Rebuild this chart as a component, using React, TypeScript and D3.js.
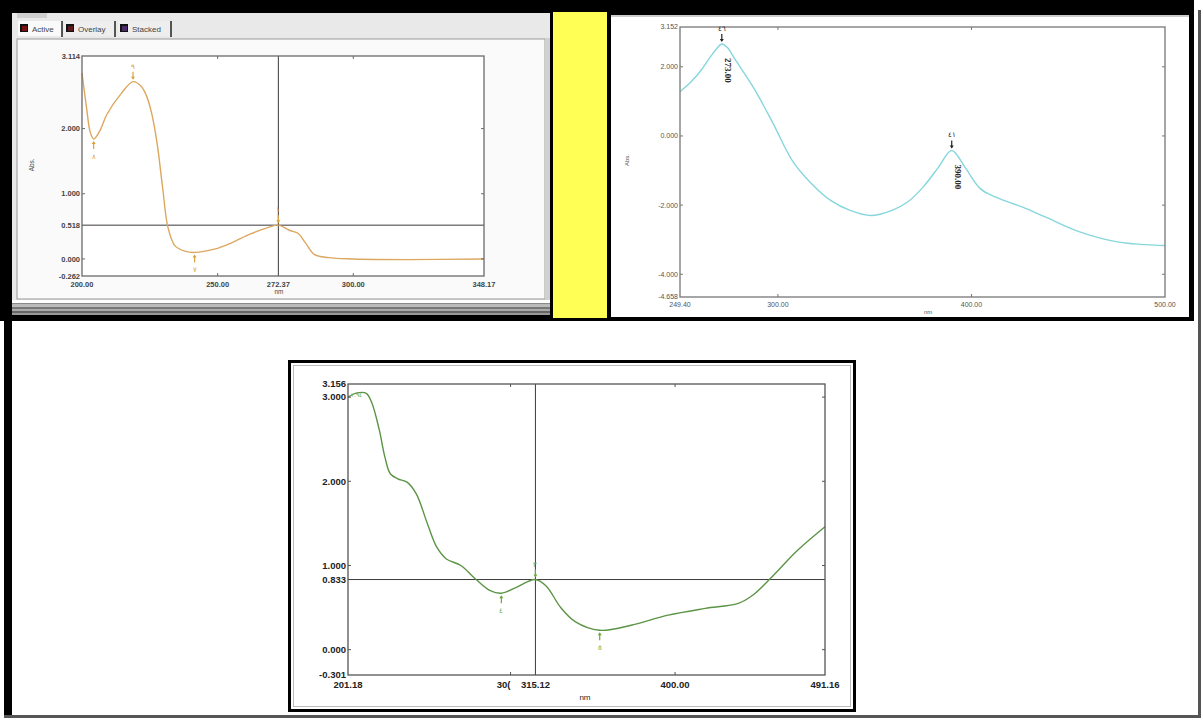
import React from "react";
import * as d3 from "d3";

// ---------- DATA ----------
// Panel 1 (orange spectrum, "Active" window)
const P1_NM = [200, 201.8, 203, 204.3, 206.5, 209.2, 214.5, 218.8, 221.8, 223.7, 225.7, 227.7, 229.7, 231.7, 234.3, 238.2, 241.5, 248.8, 255.3, 261.9, 268.5, 272.37, 276.4, 279.7, 282.3, 285.6, 290.9, 300, 320, 348.17];
const P1_ABS = [2.85, 2.28, 1.95, 1.84, 1.96, 2.22, 2.54, 2.72, 2.65, 2.51, 2.23, 1.77, 1.1, 0.48, 0.2, 0.115, 0.1, 0.15, 0.25, 0.38, 0.48, 0.518, 0.44, 0.39, 0.25, 0.07, 0.02, 0.0, -0.01, 0.0];
const P1_X_TICKS = [200, 250, 272.37, 300, 348.17];
const P1_X_LABELS = ["200.00", "250.00", "272.37", "300.00", "348.17"];
const P1_Y_TICKS = [3.114, 2.0, 1.0, 0.518, 0.0, -0.262];
const P1_Y_LABELS = ["3.114", "2.000", "1.000", "0.518", "0.000", "-0.262"];
const P1_PEAKS = [
  { nm: 204.3, v: 1.84, dir: "below", label: "\u0668" },
  { nm: 218.8, v: 2.72, dir: "above", label: "\u0669" },
  { nm: 241.5, v: 0.1, dir: "below", label: "\u0667" },
  { nm: 272.37, v: 0.518, dir: "above", label: "\u0661" },
];

// Panel 2 (cyan spectrum)
const P2_NM = [249.4, 255, 260, 265, 268, 271, 274, 277.8, 287.7, 297.6, 307.4, 317.4, 327.4, 337.3, 348.1, 359, 367, 375, 383, 389.8, 396.6, 404.7, 412.6, 426.5, 438.4, 456.3, 476.2, 500];
const P2_ABS = [1.28, 1.56, 1.88, 2.28, 2.5, 2.66, 2.55, 2.22, 1.37, 0.35, -0.71, -1.38, -1.87, -2.15, -2.3, -2.15, -1.91, -1.48, -0.9, -0.42, -0.9, -1.53, -1.77, -2.06, -2.35, -2.78, -3.07, -3.17];
const P2_X_TICKS = [249.4, 300, 400, 500];
const P2_X_LABELS = ["249.40", "300.00", "400.00", "500.00"];
const P2_Y_TICKS = [3.152, 2.0, 0.0, -2.0, -4.0, -4.658];
const P2_Y_LABELS = ["3.152", "2.000", "0.000", "-2.000", "-4.000", "-4.658"];
const P2_PEAKS = [
  { nm: 271, v: 2.66, dir: "above", label: "\u0664\u0666", value: "273.00" },
  { nm: 389.8, v: -0.42, dir: "above", label: "\u0664\u0661", value: "390.00" },
];

// Panel 3 (green spectrum)
const P3_NM = [201.18, 206.7, 212.3, 215.7, 220.2, 223.6, 226.9, 231.4, 237.1, 242.7, 249.4, 255.1, 260.8, 269.8, 278.7, 287.7, 294.4, 303.5, 314.8, 321.5, 330.5, 339.5, 354.2, 373.3, 395.8, 418.3, 438.4, 447.4, 458.7, 474.5, 491.16];
const P3_ABS = [3.0, 3.05, 3.045, 2.93, 2.61, 2.29, 2.09, 2.03, 1.99, 1.85, 1.5, 1.22, 1.08, 1.0, 0.84, 0.7, 0.67, 0.74, 0.833, 0.76, 0.5, 0.33, 0.23, 0.29, 0.41, 0.49, 0.55, 0.65, 0.86, 1.18, 1.46];
const P3_X_TICKS = [201.18, 300, 315.12, 400, 491.16];
const P3_X_LABELS = ["201.18", "30(", "315.12", "400.00", "491.16"];
const P3_Y_TICKS = [3.156, 3.0, 2.0, 1.0, 0.833, 0.0, -0.301];
const P3_Y_LABELS = ["3.156", "3.000", "2.000", "1.000", "0.833", "0.000", "-0.301"];
const P3_PEAKS = [
  { nm: 294.4, v: 0.67, dir: "below", label: "\u0664" },
  { nm: 315.12, v: 0.833, dir: "above", label: "\u0663" },
  { nm: 354.2, v: 0.23, dir: "below", label: "\u0665" },
];
const P3_TOP_LABEL = "\u0662.\u0669\u0664";

const FONT = "'Liberation Sans', Arial, sans-serif";

type Peak = { nm: number; v: number; dir: string; label: string; value?: string };
type Cfg = {
  box: [number, number, number, number]; // x0,y0,x1,y1
  nm: number[];
  abs: number[];
  xDomain: [number, number];
  yDomain: [number, number];
  xTicks: number[];
  xLabels: string[];
  xLabelShift?: number[];
  yTicks: number[];
  yLabels: string[];
  cross?: [number, number];
  color: string;
  fs: number;
  labelFill: string;
  fontWeight: string;
  frame: string;
  peaks: Peak[];
  peakColor: string;
  absLabel?: [number, number];
  nmLabel: [number, number];
};

function Panel({ c }: { c: Cfg }) {
  const [x0, y0, x1, y1] = c.box;
  const x = d3.scaleLinear().domain(c.xDomain).range([x0, x1]);
  const y = d3.scaleLinear().domain(c.yDomain).range([y1, y0]);
  const pts = c.nm.map((n, i) => [n, c.abs[i]] as [number, number]);
  const line = d3
    .line<[number, number]>()
    .x((d) => x(d[0]))
    .y((d) => y(d[1]))
    .curve(d3.curveCatmullRom.alpha(0.5));
  const innerX = c.xTicks.filter((t) => t !== c.xDomain[0] && t !== c.xDomain[1] && (!c.cross || t !== c.cross[0]));
  const innerY = c.yTicks.filter((t) => t !== c.yDomain[0] && t !== c.yDomain[1] && (!c.cross || t !== c.cross[1]));
  return (
    <g>
      <rect x={x0} y={y0} width={x1 - x0} height={y1 - y0} fill="#fff" />
      {c.cross && (
        <g stroke="#3a3a3a" strokeWidth={1}>
          <line x1={x(c.cross[0])} x2={x(c.cross[0])} y1={y0} y2={y1} />
          <line x1={x0} x2={x1} y1={y(c.cross[1])} y2={y(c.cross[1])} />
        </g>
      )}
      <path d={line(pts) || ""} fill="none" stroke={c.color} strokeWidth={1.4} />
      <rect x={x0} y={y0} width={x1 - x0} height={y1 - y0} fill="none" stroke={c.frame} strokeWidth={1.3} />
      {innerX.map((t, i) => (
        <g key={"xt" + i} stroke={c.frame} strokeWidth={1}>
          <line x1={x(t)} x2={x(t)} y1={y1} y2={y1 - 3} />
          <line x1={x(t)} x2={x(t)} y1={y0} y2={y0 + 3} />
        </g>
      ))}
      {innerY.map((t, i) => (
        <g key={"yt" + i} stroke={c.frame} strokeWidth={1}>
          <line x1={x0} x2={x0 + 3} y1={y(t)} y2={y(t)} />
          <line x1={x1} x2={x1 - 3} y1={y(t)} y2={y(t)} />
        </g>
      ))}
      {c.yTicks.map((t, i) => (
        <text
          key={"yl" + i}
          x={x0 - 2}
          y={y(t)}
          dy="0.35em"
          textAnchor="end"
          fontSize={c.fs}
          fill={c.labelFill}
          fontWeight={c.fontWeight}
          fontFamily={FONT}
        >
          {c.yLabels[i]}
        </text>
      ))}
      {c.xTicks.map((t, i) => (
        <text
          key={"xl" + i}
          x={x(t) + (c.xLabelShift ? c.xLabelShift[i] : 0)}
          y={y1 + c.fs + 3}
          textAnchor="middle"
          fontSize={c.fs}
          fill={c.labelFill}
          fontWeight={c.fontWeight}
          fontFamily={FONT}
        >
          {c.xLabels[i]}
        </text>
      ))}
      <text x={c.nmLabel[0]} y={c.nmLabel[1]} textAnchor="middle" fontSize={c.fs * 0.85} fill={c.labelFill} fontFamily={FONT}>
        nm
      </text>
      {c.absLabel && (
        <text
          transform={`translate(${c.absLabel[0]},${c.absLabel[1]}) rotate(-90)`}
          textAnchor="middle"
          fontSize={c.fs * 0.85}
          fill={c.labelFill}
          fontFamily={FONT}
        >
          Abs.
        </text>
      )}
      {c.peaks.map((p, i) => {
        const px = x(p.nm);
        const py = y(p.v);
        const s = p.dir === "above" ? -1 : 1;
        return (
          <g key={"pk" + i}>
            <line x1={px} x2={px} y1={py + s * 10} y2={py + s * 3} stroke={c.peakColor} strokeWidth={1.2} />
            <path
              d={`M${px - 2},${py + s * 5} L${px + 2},${py + s * 5} L${px},${py + s * 2} Z`}
              fill={c.peakColor}
            />
            <text
              x={px}
              y={p.dir === "above" ? py - 13 : py + 20}
              textAnchor="middle"
              fontSize={7}
              fill={c.peakColor}
              fontFamily={FONT}
            >
              {p.label}
            </text>
            {p.value && (
              <text
                transform={`translate(${px + 3},${py + 14}) rotate(90)`}
                fontSize={9}
                fontWeight="bold"
                fill="#222"
                fontFamily="'Liberation Serif', serif"
              >
                {p.value}
              </text>
            )}
          </g>
        );
      })}
    </g>
  );
}

const CFG1: Cfg = {
  box: [82, 56, 484, 276],
  nm: P1_NM,
  abs: P1_ABS,
  xDomain: [200, 348.17],
  yDomain: [-0.262, 3.114],
  xTicks: P1_X_TICKS,
  xLabels: P1_X_LABELS,
  yTicks: P1_Y_TICKS,
  yLabels: P1_Y_LABELS,
  cross: [272.37, 0.518],
  color: "#dca75e",
  fs: 7.5,
  labelFill: "#444",
  fontWeight: "bold",
  frame: "#6a6a6a",
  peaks: P1_PEAKS,
  peakColor: "#d9a23c",
  absLabel: [34, 165],
  nmLabel: [279, 294],
};

const CFG2: Cfg = {
  box: [680, 27, 1165, 297],
  nm: P2_NM,
  abs: P2_ABS,
  xDomain: [249.4, 500],
  yDomain: [-4.658, 3.152],
  xTicks: P2_X_TICKS,
  xLabels: P2_X_LABELS,
  yTicks: P2_Y_TICKS,
  yLabels: P2_Y_LABELS,
  color: "#86d6dc",
  fs: 7,
  labelFill: "#555",
  fontWeight: "normal",
  frame: "#777",
  peaks: P2_PEAKS,
  peakColor: "#222",
  absLabel: [629, 160],
  nmLabel: [928, 314],
};

const CFG3: Cfg = {
  box: [348, 384, 825, 675],
  nm: P3_NM,
  abs: P3_ABS,
  xDomain: [201.18, 491.16],
  yDomain: [-0.301, 3.156],
  xTicks: P3_X_TICKS,
  xLabels: P3_X_LABELS,
  xLabelShift: [0, -7, 0, 0, 0],
  yTicks: P3_Y_TICKS,
  yLabels: P3_Y_LABELS,
  cross: [315.12, 0.833],
  color: "#5c9446",
  fs: 9.5,
  labelFill: "#222",
  fontWeight: "bold",
  frame: "#555",
  peaks: P3_PEAKS,
  peakColor: "#6aa83a",
  nmLabel: [585, 700],
};

const TABS = ["Active", "Overlay", "Stacked"];
const TAB_ICON = ["#7a1212", "#5a1a1a", "#4a2a6a"];

export default function App() {
  const tabX = [18, 64, 118];
  const tabW = [44, 51, 53];
  return (
    <svg width={1203} height={720} style={{ position: "absolute", left: 0, top: 0, background: "#fff" }}>
      <rect x={0} y={0} width={1203} height={720} fill="#fff" />
      {/* outer frame */}
      <rect x={4} y={0} width={8} height={718} fill="#000" />
      <rect x={4} y={715} width={1197} height={3} fill="#555" />
      <rect x={1198} y={10} width={3} height={708} fill="#555" />
      {/* top black band */}
      <rect x={0} y={0} width={1194} height={321} fill="#000" />
      {/* yellow strip */}
      <rect x={553} y={12} width={54} height={306} fill="#ffff55" />
      {/* panel 1 window */}
      <rect x={12} y={13} width={538} height={302} fill="#e9e9e9" />
      <rect x={17} y={13} width={30} height={5} fill="#cfcfcf" />
      {TABS.map((t, i) => (
        <g key={t}>
          <rect x={tabX[i]} y={21} width={tabW[i]} height={15} fill={i === 0 ? "#fafafa" : "#eeeeee"} />
          <line x1={tabX[i] + tabW[i]} x2={tabX[i] + tabW[i]} y1={21} y2={37} stroke="#222" strokeWidth={1.5} />
          <rect x={tabX[i] + 2} y={24} width={8} height={8} fill="#111" />
          <rect x={tabX[i] + 4} y={26} width={5} height={5} fill={TAB_ICON[i]} />
          <text x={tabX[i] + 14} y={32} fontSize={8} fill="#444" fontFamily={FONT}>
            {t}
          </text>
        </g>
      ))}
      <rect x={17} y={39} width={528} height={260} fill="#fafafa" stroke="#9a9a9a" strokeWidth={1} />
      <rect x={545} y={38} width={5} height={262} fill="#d0d0d0" />
      {/* bottom scrollbar stripes */}
      <rect x={12} y={300} width={538} height={3} fill="#fdfdfd" />
      <rect x={12} y={303} width={538} height={1.5} fill="#888" />
      <rect x={12} y={305} width={538} height={2} fill="#bbb" />
      <rect x={12} y={307} width={538} height={2} fill="#777" />
      <rect x={12} y={309} width={538} height={2} fill="#aaa" />
      <rect x={12} y={311} width={538} height={2} fill="#666" />
      <rect x={12} y={313} width={538} height={2} fill="#999" />
      <Panel c={CFG1} />
      {/* panel 2 */}
      <rect x={611} y={15} width={578} height={302} fill="#fff" />
      <rect x={611} y={15} width={578} height={2} fill="#ccc" />
      <Panel c={CFG2} />
      {/* panel 3 */}
      <rect x={289.5} y={361.5} width={565} height={349} fill="#fff" stroke="#000" strokeWidth={3} />
      <rect x={293.5} y={365.5} width={557} height={341} fill="none" stroke="#bbb" strokeWidth={1} />
      <Panel c={CFG3} />
      <text x={351} y={397} fontSize={6} fill="#6aa83a" fontFamily={FONT}>
        {P3_TOP_LABEL}
      </text>
    </svg>
  );
}
